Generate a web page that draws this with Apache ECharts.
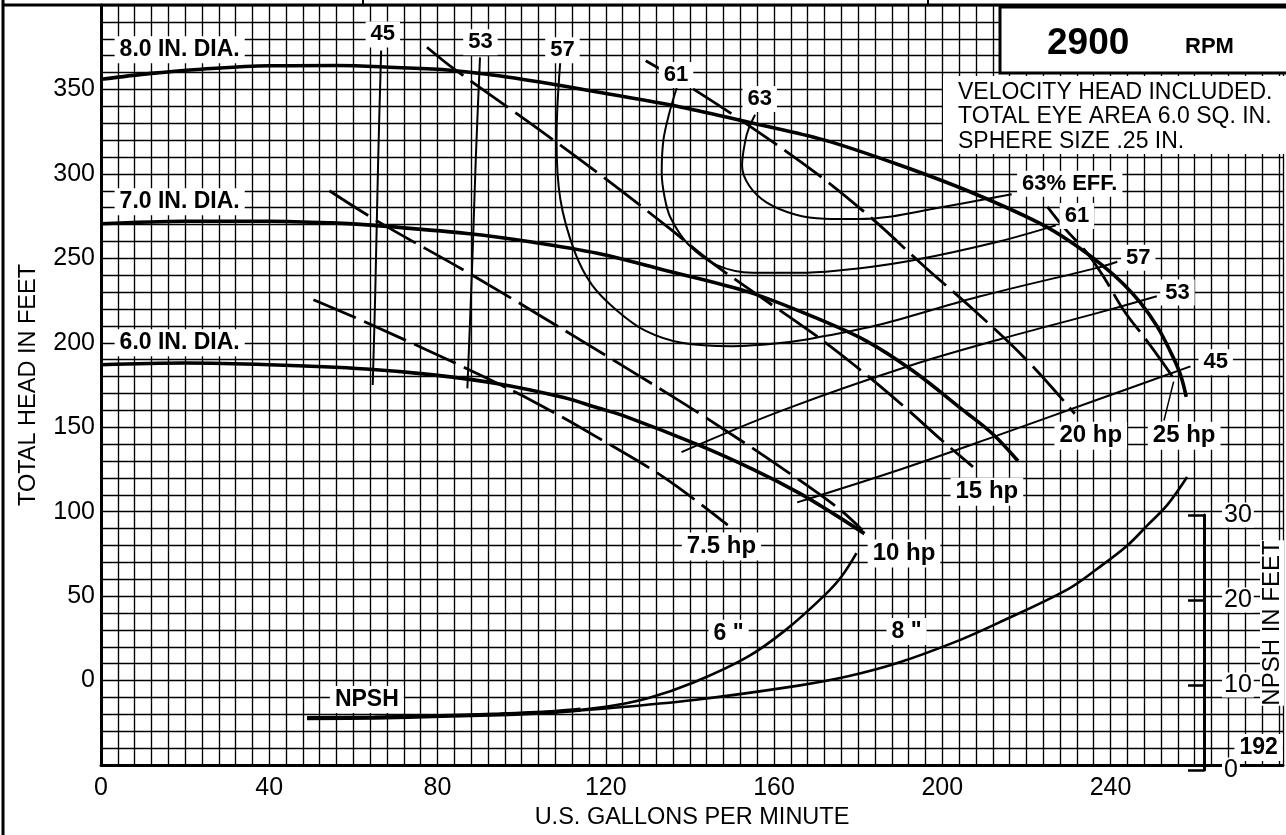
<!DOCTYPE html>
<html><head><meta charset="utf-8">
<script src="https://cdn.jsdelivr.net/npm/echarts@6/dist/echarts.min.js"></script>
<style>html,body{margin:0;padding:0;background:#fff}#c{width:1286px;height:835px}</style>
</head><body><div id="c"></div>
<script>
const FONT = '"Liberation Sans", Arial, Helvetica, sans-serif';

// ---- Head-capacity curves (gpm, ft) ----
const head8 = [[0,356],[12,359.5],[24,362],[40,364],[56,364.2],[70,363],[83,361.4],[95,358],[104,354.5],[118,348.5],[138,339.5],[155,330],[172,320],[189,306],[206,290],[223,271],[231,259],[238,246],[243,235],[247,224],[251,210],[254,196],[256.5,182],[258,168]];
const head7 = [[0,270.5],[20,272],[40,272],[55,271],[65,269.5],[87,264.7],[102,259.8],[118,253],[134,243],[154,230],[170,214.7],[182,201],[193,183.4],[205,160],[212,146],[218,130]];
const head6 = [[0,187],[20,188],[40,187],[63,184.5],[79,181],[95,175.5],[110,167.6],[118,161.5],[124,157],[142,139.5],[155,125],[166,111],[174,99],[181.5,87]];

// ---- Efficiency curves (%) ----
const eff45L = [[66.6,373],[65.9,309],[65.2,230],[64.6,175]];
const eff45R = [[165.5,105.5],[190,125],[213,145],[236,165.5],[259,186]];
const eff53L = [[90.1,369],[89.1,309],[88.3,250],[87.1,173]];
const eff53R = [[138,135.3],[162,160],[193,187],[215,203],[237,217.7],[251,227.5]];
const eff57 = [[109.2,367],[108.5,340],[108.3,320],[109.2,285],[112.6,254],[116.8,234],[122.7,219],[129.5,207],[138,200],[150,198],[162,200],[170,203],[185.5,211],[209,227.5],[237,244.5],[241.6,248]];
const eff61 = [[137,352],[135,335],[133.7,320],[133.3,301],[134,286],[135.4,274],[139.7,258],[146.4,246],[154.9,241.5],[167.6,241.5],[180,244],[193.4,249],[213.5,260],[227,269.5]];
const eff63 = [[155.5,335],[154,327],[153.2,320],[152.4,305],[154.1,293],[158.3,283],[165,276],[172,273.5],[180,273.3],[188,274.8],[197.2,279],[216.5,288]];

// ---- Power curves (hp) ----
const hp7_5 = [[50.5,225.5],[64,211],[88,183.5],[103,165],[118,144],[134,120],[149,92]];
const hp10 = [[54.3,290],[65.4,272.5],[88.3,240],[114.4,201],[136,168],[143.6,156],[160,129],[175.3,102],[181,89]];
const hp15 = [[77.5,375],[84,362],[104,326.5],[120,297],[135,268],[146,246],[169,206],[179,187],[191,162],[200,142],[207.3,126.5]];
const hp20 = [[129.5,367],[139.7,352],[155,327],[171.3,298],[184,272],[195.8,245],[207.7,219],[220,190],[231.5,158]];
const hp25 = [[225,280.5],[229,268],[234.5,253],[238.5,238.5],[243.2,219],[248.7,201],[254.3,181.5],[255,178]];
const hp25Leader = [[255,177],[252.7,154]];

// ---- NPSH curves (gpm, NPSH ft) ----
const npshCommon = [[49,5.55],[65,5.62],[81,5.8],[95,6.0],[108,6.3],[114,6.55]];
const npsh6 = [[49,5.55],[81,5.8],[108,6.3],[120,6.9],[130,7.9],[141,9.8],[153.7,12.8],[162.8,16.0],[171.8,20.0],[176,22.3],[179.6,25.1]];
const npsh8 = [[49,5.55],[81,5.8],[108,6.3],[120,6.7],[141,7.7],[165.8,9.4],[177.6,10.5],[189.5,12.1],[203.7,14.7],[213.2,16.8],[229.8,20.8],[237,23.3],[244,26],[248.8,28.4],[253.5,30.8],[258.2,34.1]];

// ---- Annotations (gpm, ft, text) ----
const diaLabels = [[18.7,373.5,'8.0 IN. DIA.'],[18.7,283.5,'7.0 IN. DIA.'],[18.7,200,'6.0 IN. DIA.']];
const effLabels = [[67,382.6,'45'],[90.2,378,'53'],[109.7,373.2,'57'],[136.7,358.5,'61'],[156.6,344.4,'63'],
  [230.3,294.1,'63% EFF.'],[232,275,'61'],[246.6,250.3,'57'],[255.9,229.7,'53'],[265,188.5,'45']];
const hpLabels = [[147.5,79.4,'7.5 hp'],[190.9,75.3,'10 hp'],[210.6,111.8,'15 hp'],[235.3,145,'20 hp'],[257.5,145,'25 hp']];
const npshLabels = [[63.2,-11.2,'NPSH'],[149.2,28,'6 "'],[191.5,29,'8 "'],[275.2,-39.7,'192']];

const xLabelTicks = [0,40,80,120,160,200,240];
const yLabelTicks = [0,50,100,150,200,250,300,350];
const npshTicks = [0,10,20,30];

function ln(data, width, dash, yIdx) {
  return {type:'line', data:data, xAxisIndex:0, yAxisIndex:yIdx||0, symbol:'none', smooth:0.35,
    silent:true, animation:false, z:3,
    lineStyle:{color:'#000', width:width, type: dash ? [46,9] : 'solid', cap:'butt'}};
}
function lab(arr, size) {
  return {type:'scatter', data:arr.map(a=>({value:[a[0],a[1]], name:a[2]})), xAxisIndex:0, yAxisIndex:0,
    symbolSize:1, itemStyle:{color:'transparent', opacity:1}, silent:true, animation:false, z:10,
    label:{show:true, position:'inside', formatter:p=>p.name, fontFamily:FONT, fontWeight:'bold',
      fontSize:size, color:'#000', opacity:1, textBorderWidth:0, backgroundColor:'#fff', padding:[2,5]}};
}

const chart = echarts.init(document.getElementById('c'));
chart.setOption({
  animation:false,
  backgroundColor:'#fff',
  grid:[{left:101, right:0, top:5, bottom:65, containLabel:false},
        {left:1204, top:515, height:255, width:10}],
  xAxis:[{type:'value', gridIndex:0, min:0, max:281, interval:4,
    axisLine:{show:true, onZero:false, lineStyle:{color:'#000', width:3}},
    axisTick:{show:false},
    axisLabel:{fontFamily:FONT, fontSize:25, color:'#000', margin:11,
      formatter:v=> xLabelTicks.indexOf(v)>=0 ? String(v) : ''},
    splitLine:{show:true, lineStyle:{color:'#000', width:1.35}},
    name:'U.S. GALLONS PER MINUTE', nameLocation:'middle', nameGap:41,
    nameTextStyle:{fontFamily:FONT, fontSize:23.5, color:'#000'}},
    {type:'value', gridIndex:1, show:false, min:0, max:1}],
  yAxis:[{type:'value', gridIndex:0, min:-50, max:400, interval:10,
    axisLine:{show:true, onZero:false, lineStyle:{color:'#000', width:3}},
    axisTick:{show:false},
    axisLabel:{fontFamily:FONT, fontSize:25, color:'#000', margin:6,
      formatter:v=> yLabelTicks.indexOf(v)>=0 ? String(v) : ''},
    splitLine:{show:true, lineStyle:{color:'#000', width:1.35}},
    name:'TOTAL HEAD IN FEET', nameLocation:'middle', nameGap:60, nameRotate:90,
    nameTextStyle:{fontFamily:FONT, fontSize:23.5, color:'#000'}},
    {type:'value', gridIndex:0, show:false, min:0, max:90},
    {type:'value', gridIndex:1, position:'left', min:0, max:30, interval:10, z:6,
    axisLine:{show:true, lineStyle:{color:'#000', width:3}},
    axisTick:{show:true, inside:false, length:16, lineStyle:{color:'#000', width:2.5}},
    axisLabel:{show:true, inside:true, margin:18, fontFamily:FONT, fontSize:25, color:'#000',
      backgroundColor:'#fff', padding:[0,2],
      formatter:v=> npshTicks.indexOf(v)>=0 ? String(v) : ''},
    splitLine:{show:false}}],
  series:[
    ln(head8,3.6), ln(head7,3.6), ln(head6,3.6),
    ln(eff45L,2), ln(eff45R,2), ln(eff53L,2), ln(eff53R,2), ln(eff57,2), ln(eff61,2), ln(eff63,2),
    ln(hp7_5,2.8,true), ln(hp10,2.8,true), ln(hp15,2.8,true), ln(hp20,2.8,true), ln(hp25,2.8,true), ln(hp25Leader,1.5),
    ln(npshCommon,4.2,false,1), ln(npsh6,2.6,false,1), ln(npsh8,2.6,false,1),
    lab(diaLabels,23), lab(effLabels,22), lab(hpLabels,24), lab(npshLabels,23)
  ],
  graphic:[
    {type:'line', z:100, shape:{x1:3,y1:0,x2:3,y2:835}, style:{stroke:'#000', lineWidth:3}},
    {type:'line', z:100, shape:{x1:3,y1:5,x2:1286,y2:5}, style:{stroke:'#000', lineWidth:3}},
    {type:'line', z:100, shape:{x1:363,y1:0,x2:363,y2:5}, style:{stroke:'#000', lineWidth:2}},
    {type:'line', z:100, shape:{x1:928,y1:0,x2:928,y2:5}, style:{stroke:'#000', lineWidth:2}},
    {type:'rect', z:100, shape:{x:1000,y:7,width:300,height:66}, style:{fill:'#fff', stroke:'#000', lineWidth:3}},
    {type:'text', z:101, left:1047, top:25, style:{text:'2900', font:'bold 37px '+FONT, fill:'#000'}},
    {type:'text', z:101, left:1185, top:36, style:{text:'RPM', font:'bold 22px '+FONT, fill:'#000'}},
    {type:'rect', z:100, shape:{x:943,y:76,width:343,height:78}, style:{fill:'#fff'}},
    {type:'text', z:101, left:958, top:81, style:{text:'VELOCITY HEAD INCLUDED.', font:'23px '+FONT, fill:'#000'}},
    {type:'text', z:101, left:958, top:105, style:{text:'TOTAL EYE AREA 6.0 SQ. IN.', font:'23px '+FONT, fill:'#000'}},
    {type:'text', z:101, left:958, top:130, style:{text:'SPHERE SIZE .25 IN.', font:'23px '+FONT, fill:'#000'}},
    {type:'text', z:101, x:1272, y:623, rotation:Math.PI/2,
      style:{text:'NPSH IN FEET', font:'24px '+FONT, fill:'#000', align:'center', verticalAlign:'middle',
        backgroundColor:'#fff'}}
  ]
});
</script></body></html>
